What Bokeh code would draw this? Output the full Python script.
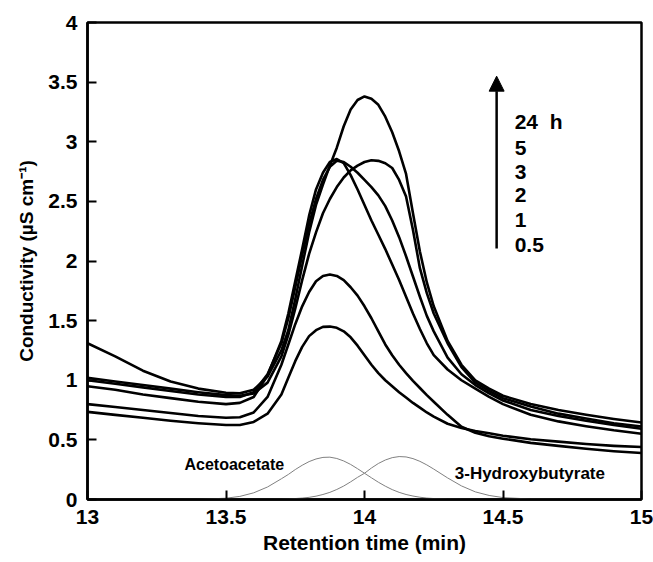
from bokeh.plotting import figure
from bokeh.models import Range1d, FixedTicker, CustomJSTickFormatter, Arrow, NormalHead, ColumnDataSource
from bokeh.core.properties import value
from bokeh.embed import file_html
from bokeh.resources import INLINE

# Retention time grid (min)
time_min = [13.0, 13.1, 13.2, 13.3, 13.4, 13.5, 13.55, 13.6, 13.65, 13.7, 13.725, 13.75, 13.775, 13.8,
            13.825, 13.85, 13.875, 13.9, 13.925, 13.95, 13.975, 14.0, 14.025, 14.05, 14.075, 14.1,
            14.125, 14.15, 14.175, 14.2, 14.225, 14.25, 14.3, 14.35, 14.4, 14.45, 14.5, 14.6, 14.7,
            14.8, 14.9, 15.0]

# Conductivity traces (uS/cm)
trace_24h = [1.31, 1.20, 1.08, 0.99, 0.93, 0.895, 0.89, 0.92, 1.03, 1.25, 1.42, 1.68, 1.96, 2.24,
             2.47, 2.64, 2.80, 2.95, 3.13, 3.27, 3.35, 3.38, 3.36, 3.31, 3.21, 3.08,
             2.92, 2.73, 2.40, 2.08, 1.82, 1.62, 1.33, 1.13, 1.00, 0.93, 0.87, 0.80, 0.75,
             0.71, 0.675, 0.645]
trace_5h = [1.02, 0.99, 0.96, 0.93, 0.90, 0.875, 0.87, 0.89, 0.98, 1.20, 1.38, 1.60, 1.84, 2.06,
            2.24, 2.40, 2.52, 2.62, 2.70, 2.76, 2.80, 2.83, 2.845, 2.84, 2.82, 2.78,
            2.68, 2.54, 2.26, 1.94, 1.73, 1.56, 1.31, 1.11, 0.98, 0.91, 0.85, 0.78, 0.72,
            0.68, 0.64, 0.612]
trace_3h = [1.00, 0.97, 0.94, 0.91, 0.88, 0.86, 0.86, 0.90, 1.05, 1.31, 1.52, 1.78, 2.05, 2.31,
            2.52, 2.68, 2.79, 2.84, 2.83, 2.79, 2.74, 2.68, 2.62, 2.55, 2.46, 2.34,
            2.20, 2.04, 1.87, 1.70, 1.54, 1.41, 1.19, 1.05, 0.96, 0.89, 0.83, 0.75, 0.70,
            0.66, 0.625, 0.593]
trace_2h = [0.95, 0.92, 0.88, 0.85, 0.82, 0.80, 0.81, 0.86, 1.04, 1.33, 1.56, 1.83, 2.10, 2.38,
            2.60, 2.74, 2.83, 2.855, 2.82, 2.72, 2.60, 2.47, 2.34, 2.22, 2.10, 1.97,
            1.84, 1.70, 1.56, 1.43, 1.31, 1.21, 1.09, 1.00, 0.93, 0.86, 0.80, 0.71, 0.655,
            0.615, 0.58, 0.551]
trace_1h = [0.80, 0.775, 0.75, 0.725, 0.70, 0.685, 0.69, 0.73, 0.86, 1.13, 1.30, 1.47, 1.62, 1.74,
            1.83, 1.875, 1.887, 1.875, 1.84, 1.78, 1.71, 1.62, 1.52, 1.41, 1.30, 1.21,
            1.13, 1.06, 0.995, 0.935, 0.875, 0.82, 0.71, 0.61, 0.56, 0.53, 0.51, 0.475, 0.45,
            0.425, 0.405, 0.39]
trace_05h = [0.735, 0.71, 0.685, 0.66, 0.64, 0.625, 0.625, 0.65, 0.72, 0.88, 1.02, 1.16, 1.28, 1.37,
             1.42, 1.448, 1.45, 1.44, 1.41, 1.36, 1.29, 1.21, 1.13, 1.06, 1.00, 0.95,
             0.90, 0.855, 0.81, 0.77, 0.73, 0.695, 0.635, 0.60, 0.575, 0.555, 0.535, 0.505, 0.485,
             0.465, 0.45, 0.44]

# Standard peaks (grey)
acetoacetate = [0, 0, 0, 0, 0.001, 0.011, 0.026, 0.056, 0.105, 0.174, 0.21, 0.251, 0.287, 0.318,
                0.34, 0.353, 0.355, 0.344, 0.323, 0.294, 0.258, 0.22, 0.182, 0.145, 0.112, 0.083,
                0.06, 0.042, 0.029, 0.019, 0.012, 0.008, 0.004, 0.002, 0.001, 0, 0, 0, 0,
                0, 0, 0]
hydroxybutyrate = [0, 0, 0, 0, 0, 0, 0, 0, 0.001, 0.002, 0.004, 0.008, 0.012, 0.018,
                   0.028, 0.042, 0.06, 0.084, 0.113, 0.148, 0.186, 0.22, 0.264, 0.302, 0.331, 0.351,
                   0.36, 0.357, 0.343, 0.32, 0.29, 0.255, 0.181, 0.114, 0.064, 0.034, 0.016, 0.004, 0.001,
                   0, 0, 0]

legend_labels = ["24\u00a0\u00a0h", "5", "3", "2", "1", "0.5"]
x_ticks = [13, 13.5, 14, 14.5, 15]
y_ticks = [0, 0.5, 1, 1.5, 2, 2.5, 3, 3.5, 4]

FONT = "Liberation Sans"

p = figure(width=653, height=562, x_range=Range1d(13, 15), y_range=Range1d(0, 4),
           output_backend="svg", toolbar_location=None,
           min_border_left=87, min_border_right=12, min_border_top=22, min_border_bottom=63)
p.background_fill_color = "white"
p.border_fill_color = "white"
p.outline_line_color = "black"
p.outline_line_width = 2.5
p.xgrid.visible = False
p.ygrid.visible = False

fmt = CustomJSTickFormatter(code="return tick.toString();")
for ax, ticks in ((p.xaxis[0], x_ticks), (p.yaxis[0], y_ticks)):
    ax.ticker = FixedTicker(ticks=ticks)
    ax.formatter = fmt
    ax.axis_line_width = 2.5
    ax.axis_line_color = "black"
    ax.major_tick_in = 9
    ax.major_tick_out = 0
    ax.major_tick_line_width = 2
    ax.major_tick_line_color = "black"
    ax.minor_tick_line_color = None
    ax.major_label_text_font = FONT
    ax.major_label_text_font_style = "bold"
    ax.major_label_text_font_size = "21px"
    ax.major_label_text_color = "black"
    ax.axis_label_text_font = FONT
    ax.axis_label_text_font_style = "bold"
    ax.axis_label_text_color = "black"

p.xaxis.axis_label = "Retention time (min)"
p.yaxis.axis_label = "Conductivity (µS cm⁻¹)"
p.xaxis.axis_label_text_font_size = "21px"
p.yaxis.axis_label_text_font_size = "19px"
p.xaxis.major_label_standoff = 10
p.xaxis.axis_label_standoff = 4
p.yaxis.major_label_standoff = 10
p.yaxis.axis_label_standoff = 8

# Grey standard peaks
p.line(time_min, acetoacetate, line_color="#808080", line_width=1)
p.line(time_min, hydroxybutyrate, line_color="#808080", line_width=1)

# Sample traces
for tr in (trace_05h, trace_1h, trace_2h, trace_3h, trace_5h, trace_24h):
    p.line(time_min, tr, line_color="black", line_width=2.6, line_join="round")

# Arrow indicating time
p.add_layout(Arrow(end=NormalHead(size=15, fill_color="black", line_color="black"),
                   x_start=14.477, y_start=2.105, x_end=14.477, y_end=3.55,
                   line_width=2.5, line_color="black"))

label_src = ColumnDataSource(dict(x=[14.542] * len(legend_labels),
                                  y=[3.17, 2.95, 2.75, 2.55, 2.34, 2.13],
                                  t=legend_labels))
p.text(x="x", y="y", text="t", source=label_src, text_font=value(FONT),
       text_font_style="bold", text_font_size="21px", text_baseline="middle",
       text_align="left", text_color="black")

p.text(x=[13.53], y=[0.29], text=["Acetoacetate"], text_font=value(FONT),
       text_font_style="bold", text_font_size="16px", text_baseline="middle",
       text_align="center", text_color="black")
p.text(x=[14.597], y=[0.22], text=["3-Hydroxybutyrate"], text_font=value(FONT),
       text_font_style="bold", text_font_size="17px", text_baseline="middle",
       text_align="center", text_color="black")

open("out.html", "w").write(file_html(p, INLINE))
